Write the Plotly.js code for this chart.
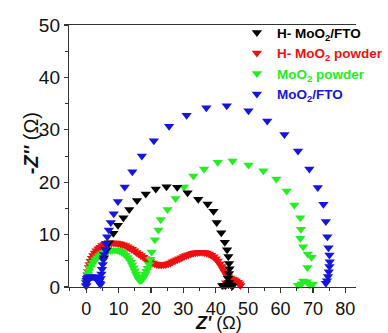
<!DOCTYPE html>
<html>
<head>
<meta charset="utf-8">
<script src="https://cdn.plot.ly/plotly-3.0.1.min.js"></script>
<style>html,body{margin:0;padding:0;background:#fff;}#chart{width:388px;height:333px;}</style>
</head>
<body>
<div id="chart"></div>
<script>
// Series names (legend order)
const seriesNames = ['H- MoO<sub>2</sub>/FTO', 'H- MoO<sub>2</sub> powder', 'MoO<sub>2</sub> powder', 'MoO<sub>2</sub>/FTO'];
const seriesColors = ['#000000', '#ee1111', '#22ee22', '#1515e0'];

// H- MoO2/FTO (black)
const blackX = [5.5, 6.3, 7.0, 8.4, 9.8, 11.5, 13.3, 15.7, 18.4, 21.5, 24.8, 28.1, 31.3, 34.6, 37.5, 39.3, 40.3, 41.7, 42.8, 43.5, 43.9, 44.1, 44.25, 44.1, 43.75, 44.1, 44.7, 43.0, 43.9, 45.2, 42.0];
const blackY = [5.6, 7.1, 8.45, 10.25, 11.8, 13.2, 14.8, 16.5, 17.75, 18.7, 19.15, 19.05, 18.0, 16.75, 15.85, 14.45, 12.3, 10.35, 8.55, 7.1, 5.8, 4.5, 3.5, 2.6, 1.65, 0.85, 0.4, 0.3, 0.5, 0.2, 0.3];

// H- MoO2 powder (red)
const redX = [0.0, 0.1, 0.25, 0.4, 0.6, 0.85, 1.1, 1.4, 1.8, 2.2, 2.7, 3.2, 3.8, 4.4, 5.0, 5.7, 6.4, 7.1, 7.8, 8.5, 9.2, 9.9, 10.6, 11.3, 12.0, 12.7, 13.4, 14.1, 14.8, 15.5, 16.2, 16.9, 17.6, 18.3, 19.0, 19.7, 20.4, 21.1, 21.8, 22.5, 23.2, 23.9, 24.6, 25.3, 26.0, 26.7, 27.4, 28.1, 28.8, 29.5, 30.2, 30.9, 31.6, 32.3, 33.0, 33.7, 34.4, 35.1, 35.8, 36.5, 37.2, 37.9, 38.6, 39.3, 40.0, 40.6, 41.2, 41.8, 42.3, 42.8, 43.3, 43.8, 44.4, 45.0, 45.6, 46.2, 46.8, 47.3, 47.6, 42.5, 43.2, 44.0, 45.5];
const redY = [0.2, 0.9, 1.6, 2.3, 3.0, 3.7, 4.3, 4.9, 5.5, 6.0, 6.5, 6.9, 7.3, 7.6, 7.9, 8.1, 8.25, 8.35, 8.4, 8.4, 8.38, 8.3, 8.2, 8.05, 7.9, 7.7, 7.45, 7.2, 6.9, 6.6, 6.3, 6.0, 5.7, 5.4, 5.1, 4.85, 4.6, 4.45, 4.3, 4.25, 4.2, 4.25, 4.3, 4.45, 4.6, 4.8, 5.0, 5.2, 5.4, 5.6, 5.8, 6.0, 6.15, 6.3, 6.45, 6.55, 6.6, 6.65, 6.65, 6.6, 6.5, 6.3, 6.05, 5.75, 5.4, 4.95, 4.45, 3.9, 3.35, 2.8, 2.3, 1.95, 1.7, 1.55, 1.4, 1.2, 0.9, 0.6, 0.3, 0.35, 0.8, 0.5, 0.9];

// MoO2 powder (green)
const greenX = [0.0, 0.1, 0.25, 0.5, 0.8, 1.2, 1.7, 2.2, 2.8, 3.4, 4.0, 4.7, 5.4, 6.1, 6.8, 7.5, 8.2, 8.9, 9.6, 10.3, 11.0, 11.6, 12.2, 12.8, 13.3, 13.8, 14.2, 14.6, 15.0, 15.4, 15.8, 16.2, 16.6, 17.0, 17.4, 17.8, 18.2, 18.6, 19.0, 19.4, 19.8, 20.2, 21.2, 22.3, 23.0, 25.1, 27.6, 30.2, 33.1, 36.4, 40.6, 45.2, 50.1, 54.7, 58.7, 61.9, 64.25, 66.1, 66.3, 66.1, 67.0, 68.4, 69.6, 68.3, 67.0, 68.1, 70.0, 65.4, 66.5, 69.0];
const greenY = [0.3, 1.0, 1.7, 2.4, 3.0, 3.6, 4.2, 4.7, 5.2, 5.6, 5.95, 6.3, 6.55, 6.75, 6.9, 7.0, 7.05, 7.05, 7.0, 6.85, 6.65, 6.4, 6.05, 5.65, 5.2, 4.7, 4.2, 3.65, 3.1, 2.5, 1.95, 1.5, 1.25, 1.3, 1.55, 1.95, 2.45, 3.0, 3.6, 4.3, 5.3, 6.7, 9.0, 10.9, 12.9, 14.8, 16.9, 19.1, 21.2, 22.5, 23.8, 24.05, 23.3, 22.2, 20.6, 18.3, 15.65, 13.2, 11.0, 9.3, 7.7, 6.3, 5.7, 3.7, 1.15, 1.0, 0.55, 0.35, 0.6, 0.4];

// MoO2/FTO (blue)
const blueX = [0.0, 0.05, 0.15, 0.3, 0.55, 0.9, 1.3, 1.7, 2.1, 2.5, 2.9, 3.3, 3.7, 4.0, 4.2, 4.4, 4.5, 4.7, 4.9, 5.1, 5.3, 5.55, 5.8, 6.1, 6.5, 7.0, 7.6, 8.5, 9.8, 11.9, 14.25, 17.2, 20.9, 25.6, 31.0, 37.1, 43.4, 50.1, 55.9, 61.2, 65.4, 68.9, 71.5, 73.25, 74.0, 74.45, 74.8, 75.1, 75.2, 75.1, 74.9, 74.65, 74.35, 74.0];
const blueY = [0.3, 0.8, 1.3, 1.6, 1.8, 1.9, 1.95, 1.95, 1.95, 1.9, 1.85, 1.75, 1.5, 1.1, 0.7, 0.5, 1.6, 2.5, 3.4, 4.3, 5.2, 6.2, 7.2, 8.3, 9.6, 10.9, 12.3, 14.0, 16.3, 19.1, 22.0, 25.0, 27.9, 30.7, 32.8, 34.2, 34.6, 33.65, 31.7, 29.1, 25.95, 22.5, 19.0, 15.8, 12.5, 9.6, 7.5, 6.1, 4.8, 3.9, 2.9, 2.0, 1.2, 0.7];

// Axis ticks
const xTicks = [0, 10, 20, 30, 40, 50, 60, 70, 80];
const yTicks = [0, 10, 20, 30, 40, 50];

const dataX = [blackX, redX, greenX, blueX];
const dataY = [blackY, redY, greenY, blueY];
const drawOrder = [1, 2, 0, 3];

const traces = drawOrder.map(i => ({
  type: 'scatter',
  mode: 'markers',
  x: dataX[i],
  y: dataY[i],
  name: '<span style="color:' + seriesColors[i] + '">' + seriesNames[i] + '</span>',
  legendrank: i + 1,
  cliponaxis: false,
  marker: {symbol: 'triangle-down', size: 9, color: seriesColors[i], line: {width: 0}}
}));

const tickFontX = {family: 'Liberation Sans, Arial, sans-serif', size: 18, color: '#111'};
const tickFontY = {family: 'Liberation Sans, Arial, sans-serif', size: 19, color: '#111'};

const layout = {
  width: 388, height: 333,
  margin: {l: 69, r: 0, t: 25, b: 46, pad: 0},
  paper_bgcolor: '#fff', plot_bgcolor: '#fff',
  showlegend: true,
  legend: {
    x: 0.585, y: 1.03, xanchor: 'left', yanchor: 'top',
    bgcolor: 'rgba(0,0,0,0)', borderwidth: 0,
    font: {family: 'Liberation Sans, Arial, sans-serif', size: 13.5, weight: 'bold', color: '#000'},
    itemwidth: 30, tracegroupgap: 0
  },
  xaxis: {
    range: [-5.3, 83.3], tickvals: xTicks, ticktext: xTicks.map(String),
    ticks: 'outside', ticklen: 5, tickwidth: 1.2, tickcolor: '#333', ticklabelstandoff: 0,
    minor: {dtick: 5, tick0: 0, ticks: 'outside', ticklen: 3, tickwidth: 1, tickcolor: '#333'},
    showline: true, linecolor: '#333', linewidth: 1.2, mirror: true,
    showgrid: false, zeroline: false, tickfont: tickFontX
  },
  yaxis: {
    range: [0, 50], tickvals: yTicks, ticktext: yTicks.map(String),
    ticks: 'outside', ticklen: 4, tickwidth: 1.2, tickcolor: '#333',
    minor: {dtick: 5, tick0: 0, ticks: 'outside', ticklen: 2.5, tickwidth: 1, tickcolor: '#333'},
    showline: true, linecolor: '#333', linewidth: 1.2, mirror: false,
    showgrid: false, zeroline: false, tickfont: tickFontY
  },
  annotations: [
    {text: "<b><i>Z'</i></b>&nbsp;(Ω)", xref: 'paper', yref: 'paper', x: (235 - 69) / 319, y: (287 - 322.5) / 262,
     xanchor: 'center', yanchor: 'middle', showarrow: false,
     font: {family: 'Liberation Sans, Arial, sans-serif', size: 18, color: '#111'}},
    {text: "<b>-<i>Z''</i></b> (Ω)", xref: 'paper', yref: 'paper', x: (27 - 69) / 319, y: (287 - 143) / 262,
     xanchor: 'center', yanchor: 'middle', showarrow: false, textangle: -90,
     font: {family: 'Liberation Sans, Arial, sans-serif', size: 20, color: '#111'}}
  ]
};

Plotly.newPlot('chart', traces, layout, {displayModeBar: false, staticPlot: true});
</script>
</body>
</html>
